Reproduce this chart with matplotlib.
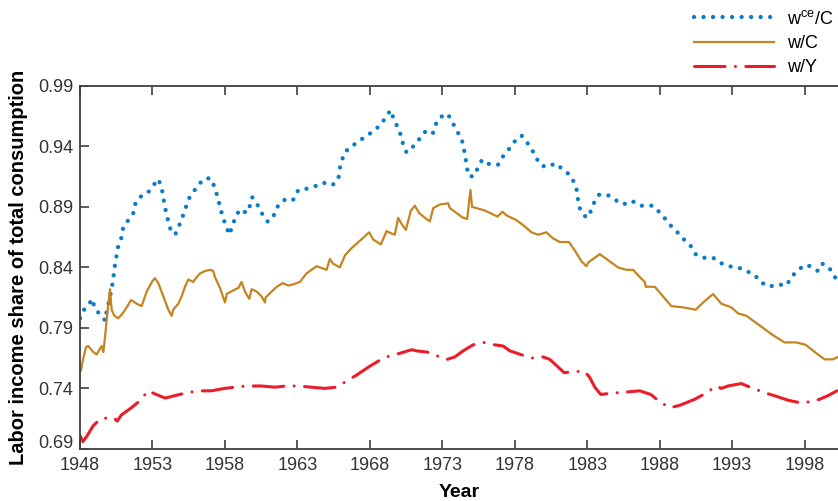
import numpy as np
import matplotlib
matplotlib.use('Agg')
import matplotlib.pyplot as plt
import matplotlib.transforms as mtransforms

# values
wce_years = [1948.0, 1948.28, 1948.69, 1948.83, 1949.03, 1949.38, 1949.75, 1949.84, 1950.02, 1950.25,
             1950.41, 1950.64, 1950.87, 1950.99, 1951.33, 1951.68, 1951.79, 1952.09, 1952.64, 1953.01,
             1953.40, 1953.63, 1953.74, 1953.86, 1953.98, 1954.14, 1954.32, 1954.60, 1954.85, 1955.08,
             1955.31, 1955.52, 1955.86, 1956.21, 1956.69, 1957.08, 1957.31, 1957.50, 1957.66, 1957.84,
             1958.02, 1958.30, 1958.53, 1958.74, 1959.03, 1959.50, 1959.67, 1959.88, 1960.23, 1960.53,
             1960.94, 1961.33, 1961.45, 1961.79, 1962.26, 1962.71, 1963.06, 1963.63, 1964.20, 1964.78,
             1965.42, 1965.82, 1965.93, 1966.23, 1966.74, 1967.31, 1967.82, 1968.39, 1968.81, 1969.15,
             1969.43, 1969.66, 1969.91, 1970.18, 1970.30, 1970.53, 1970.99, 1971.40, 1971.79, 1972.32,
             1972.53, 1972.83, 1973.36, 1973.70, 1973.98, 1974.32, 1974.50, 1974.67, 1974.78, 1975.12,
             1975.45, 1975.74, 1976.28, 1976.85, 1977.20, 1977.61, 1978.05, 1978.46, 1978.81, 1979.20,
             1979.50, 1979.84, 1980.30, 1980.78, 1981.33, 1981.84, 1982.14, 1982.32, 1982.37, 1982.53,
             1982.94, 1983.22, 1983.45, 1983.81, 1984.39, 1984.90, 1985.47, 1986.09, 1986.62, 1987.08,
             1987.54, 1987.95, 1988.39, 1988.80, 1989.22, 1989.68, 1990.12, 1990.46, 1990.99, 1991.68,
             1992.14, 1992.71, 1993.40, 1993.98, 1994.55, 1994.94, 1995.54, 1996.16, 1996.74, 1997.08,
             1997.47, 1998.00, 1998.41, 1998.92, 1999.22, 1999.61, 1999.95, 2000.23]
wce_vals = [0.798, 0.805, 0.811, 0.814, 0.806, 0.801, 0.796, 0.804, 0.813, 0.827,
            0.842, 0.858, 0.865, 0.874, 0.879, 0.885, 0.892, 0.898, 0.901, 0.907,
            0.913, 0.906, 0.898, 0.890, 0.883, 0.876, 0.868, 0.868, 0.875, 0.882,
            0.890, 0.897, 0.903, 0.909, 0.914, 0.913, 0.905, 0.898, 0.890, 0.882,
            0.876, 0.867, 0.875, 0.882, 0.888, 0.885, 0.889, 0.898, 0.892, 0.885,
            0.878, 0.881, 0.887, 0.893, 0.897, 0.896, 0.904, 0.905, 0.907, 0.910,
            0.908, 0.913, 0.922, 0.935, 0.940, 0.945, 0.949, 0.954, 0.959, 0.965,
            0.970, 0.962, 0.956, 0.948, 0.941, 0.935, 0.940, 0.946, 0.952, 0.950,
            0.958, 0.964, 0.967, 0.960, 0.953, 0.947, 0.937, 0.925, 0.916, 0.915,
            0.922, 0.929, 0.925, 0.925, 0.932, 0.938, 0.945, 0.949, 0.944, 0.937,
            0.930, 0.924, 0.923, 0.926, 0.921, 0.916, 0.909, 0.902, 0.894, 0.887,
            0.881, 0.886, 0.893, 0.900, 0.900, 0.896, 0.892, 0.895, 0.891, 0.891,
            0.891, 0.886, 0.880, 0.874, 0.869, 0.863, 0.858, 0.851, 0.848, 0.848,
            0.844, 0.841, 0.840, 0.837, 0.834, 0.828, 0.824, 0.826, 0.825, 0.832,
            0.837, 0.842, 0.841, 0.837, 0.843, 0.841, 0.835, 0.829]

wc_years = [1948.07, 1948.19, 1948.41, 1948.57, 1948.92, 1949.15, 1949.38, 1949.50, 1949.61, 1949.72,
            1949.88, 1950.07, 1950.18, 1950.37, 1950.64, 1950.94, 1951.22, 1951.52, 1951.91, 1952.25,
            1952.60, 1953.01, 1953.17, 1953.40, 1953.75, 1954.09, 1954.32, 1954.43, 1954.78, 1955.01,
            1955.24, 1955.47, 1955.81, 1956.05, 1956.28, 1956.62, 1957.01, 1957.19, 1957.31, 1957.66,
            1958.00, 1958.12, 1958.57, 1958.92, 1959.15, 1959.38, 1959.68, 1959.84, 1960.19, 1960.53,
            1960.76, 1960.80, 1961.22, 1961.57, 1961.98, 1962.37, 1962.71, 1963.17, 1963.63, 1964.32,
            1965.01, 1965.24, 1965.47, 1965.93, 1966.28, 1966.74, 1967.31, 1967.95, 1968.23, 1968.76,
            1969.15, 1969.50, 1969.72, 1969.95, 1970.18, 1970.48, 1970.83, 1971.10, 1971.40, 1971.79,
            1972.14, 1972.37, 1972.83, 1973.40, 1973.52, 1973.98, 1974.43, 1974.71, 1974.94, 1975.05,
            1975.36, 1975.93, 1976.28, 1976.81, 1977.15, 1977.43, 1978.12, 1978.57, 1979.15, 1979.61,
            1980.18, 1980.64, 1981.10, 1981.74, 1982.14, 1982.60, 1982.94, 1983.06, 1983.86, 1984.55,
            1985.12, 1985.70, 1986.16, 1986.62, 1986.97, 1987.03, 1987.66, 1988.23, 1988.80, 1989.61,
            1990.48, 1990.99, 1991.68, 1992.25, 1992.94, 1993.40, 1993.98, 1994.90, 1995.81, 1996.62,
            1997.43, 1998.07, 1998.81, 1999.38, 1999.95, 2000.30]
wc_vals = [0.755, 0.763, 0.774, 0.775, 0.770, 0.768, 0.773, 0.775, 0.770, 0.782,
           0.802, 0.822, 0.805, 0.800, 0.798, 0.802, 0.807, 0.813, 0.810, 0.808,
           0.820, 0.829, 0.831, 0.827, 0.816, 0.805, 0.800, 0.805, 0.810, 0.816,
           0.824, 0.830, 0.828, 0.832, 0.835, 0.837, 0.838, 0.837, 0.832, 0.823,
           0.811, 0.818, 0.821, 0.823, 0.828, 0.820, 0.814, 0.822, 0.820, 0.816,
           0.811, 0.815, 0.820, 0.824, 0.827, 0.825, 0.826, 0.828, 0.835, 0.841,
           0.838, 0.847, 0.843, 0.840, 0.850, 0.856, 0.862, 0.869, 0.863, 0.859,
           0.870, 0.868, 0.867, 0.881, 0.876, 0.871, 0.887, 0.891, 0.885, 0.881,
           0.878, 0.889, 0.892, 0.893, 0.889, 0.885, 0.881, 0.880, 0.904, 0.890,
           0.889, 0.887, 0.885, 0.882, 0.886, 0.883, 0.879, 0.875, 0.869, 0.867,
           0.869, 0.864, 0.861, 0.861, 0.854, 0.845, 0.841, 0.844, 0.851, 0.845,
           0.840, 0.838, 0.838, 0.832, 0.828, 0.824, 0.824, 0.816, 0.808, 0.807,
           0.805, 0.811, 0.818, 0.810, 0.807, 0.802, 0.800, 0.792, 0.784, 0.778,
           0.778, 0.776, 0.769, 0.764, 0.764, 0.766]

wy_years = [1948.0, 1948.2, 1948.55, 1948.9, 1949.42, 1950.28, 1950.57, 1950.85, 1951.54, 1952.16,
            1952.69, 1953.26, 1953.88, 1954.53, 1955.22, 1956.14, 1957.06, 1957.98, 1958.67, 1959.47,
            1960.5, 1961.43, 1962.23, 1963.03, 1963.95, 1964.87, 1965.67, 1966.39, 1967.08, 1967.95,
            1968.64, 1969.38, 1970.07, 1970.88, 1971.22, 1971.96, 1972.83, 1973.33, 1973.86, 1974.43,
            1975.12, 1975.93, 1976.62, 1977.2, 1977.66, 1978.41, 1979.26, 1979.95, 1980.41, 1980.87,
            1981.4, 1982.25, 1982.83, 1983.17, 1983.52, 1983.93, 1984.67, 1985.7, 1986.62, 1987.38,
            1988.0, 1988.69, 1989.38, 1990.41, 1991.17, 1991.91, 1992.25, 1992.71, 1993.63, 1994.43,
            1995.36, 1996.16, 1996.92, 1997.77, 1998.34, 1999.03, 1999.61, 2000.23]
wy_vals = [0.701, 0.696, 0.702, 0.709, 0.715, 0.716, 0.713, 0.718, 0.724, 0.730,
           0.738, 0.735, 0.732, 0.734, 0.736, 0.738, 0.738, 0.740, 0.741, 0.742,
           0.742, 0.741, 0.742, 0.742, 0.741, 0.740, 0.741, 0.746, 0.751, 0.758,
           0.763, 0.767, 0.769, 0.772, 0.771, 0.770, 0.766, 0.764, 0.766, 0.771,
           0.776, 0.778, 0.776, 0.775, 0.771, 0.768, 0.765, 0.766, 0.764, 0.759,
           0.753, 0.754, 0.754, 0.749, 0.741, 0.735, 0.736, 0.737, 0.738, 0.735,
           0.729, 0.724, 0.726, 0.731, 0.736, 0.742, 0.740, 0.742, 0.744, 0.740,
           0.736, 0.733, 0.730, 0.728, 0.729, 0.731, 0.734, 0.738]

x_ticks = [1948, 1953, 1958, 1963, 1968, 1973, 1978, 1983, 1988, 1993, 1998]
y_ticks = [0.69, 0.74, 0.79, 0.84, 0.89, 0.94, 0.99]

plt.rcParams['font.family'] = ['Liberation Sans', 'DejaVu Sans']
plt.rcParams['mathtext.fontset'] = 'custom'
plt.rcParams['mathtext.rm'] = 'Liberation Sans'

fig = plt.figure(figsize=(8.38, 5.01), dpi=100)
ax = fig.add_axes([0.0955, 0.104, 0.9045, 0.7245])

ax.plot(wce_years, wce_vals, color='#0a7cc8', lw=3.1, linestyle=(0, (0.01, 2.2)),
        dash_capstyle='round', label='w$^{\\mathrm{ce}}$/C')
ax.plot(wc_years, wc_vals, color='#c4841e', lw=1.6, label='w/C')
ax.plot(wy_years, wy_vals, color='#ec1c28', lw=2.2, linestyle=(0, (10, 3.4, 0.01, 3.4)),
        dash_capstyle='round', label='w/Y')

ax.set_xlim(1948, 2000.3)
ax.set_ylim(0.69, 0.99)
ax.set_xticks(x_ticks)
ax.set_yticks(y_ticks)
ax.set_yticklabels(['%.2f' % v for v in y_ticks])
ax.tick_params(direction='in', length=6.5, width=1.2, colors='#404040', labelsize=13,
               top=True, labelcolor='#333333')
ax.tick_params(axis='x', pad=6)
ax.tick_params(axis='y', pad=5)
for side in ['left', 'bottom', 'top']:
    ax.spines[side].set_color('#404040')
    ax.spines[side].set_linewidth(1.3)
ax.spines['right'].set_visible(False)

# lift the bottom y label a little so it clears the first year
lift = mtransforms.ScaledTranslation(0, 5 / 72, fig.dpi_scale_trans)
first = ax.get_yticklabels()[0]
first.set_transform(first.get_transform() + lift)

ax.set_xlabel('Year', fontsize=14, fontweight='bold', labelpad=7)
ax.set_ylabel('Labor income share of total consumption', fontsize=14.5, fontweight='bold',
              labelpad=7)

fig.legend(loc='upper right', bbox_to_anchor=(837 / 838, 1 - 6 / 501), frameon=False,
           fontsize=13, handlelength=4.4, labelspacing=0.4, borderaxespad=0, borderpad=0.2,
           handletextpad=0.75)

fig.savefig('out.png', dpi=100)
